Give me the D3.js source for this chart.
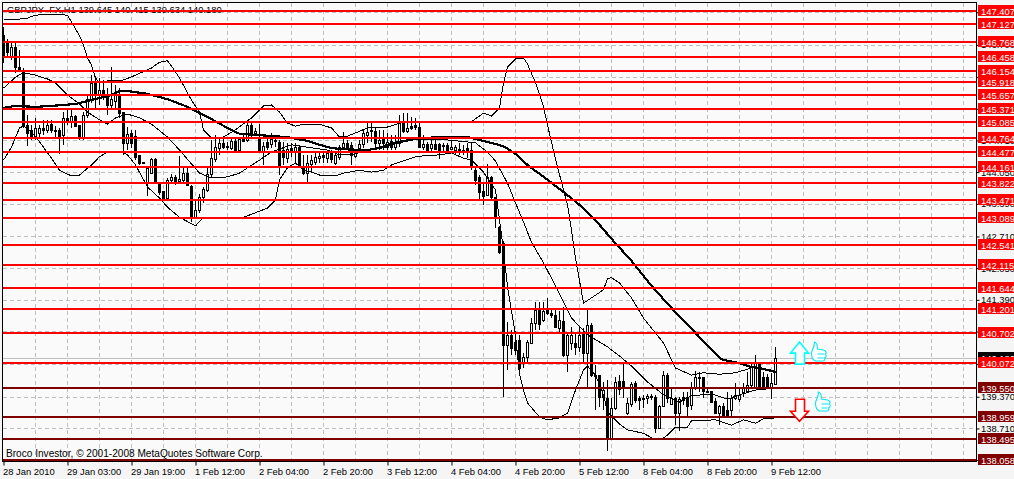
<!DOCTYPE html>
<html>
<head>
<meta charset="utf-8">
<script src="https://d3js.org/d3.v7.min.js"></script>
<style>
  html, body { margin: 0; padding: 0; background: #f5f5f5; overflow: hidden; }
  svg { display: block; }
  text { font-family: "Liberation Sans", Arial, sans-serif; font-size: 9.4px; fill: #000; }
</style>
</head>
<body>
<svg id="chart" width="1014" height="479"></svg>
<script>
// GBPJPY H1 candles
const opens = [
  146.91,146.76,146.45,146.66,146.24,146.14,145.03,144.93,144.78,144.87,
  144.97,144.93,145.05,144.91,144.93,144.82,145.18,145.12,145.22,145.03,
  144.78,145.24,145.55,145.91,145.66,145.76,145.66,145.45,145.53,145.68,
  145.30,144.66,144.87,144.80,144.41,144.26,143.82,144.03,144.32,143.82,
  143.66,143.51,143.89,143.95,143.87,143.89,144.03,143.76,143.11,143.26,
  143.53,143.68,144.01,144.32,144.55,144.66,144.59,144.55,144.70,144.51,
  144.74,144.72,145.03,144.87,144.76,144.49,144.68,144.64,144.72,144.68,
  144.51,144.34,144.55,144.47,144.57,144.14,144.03,144.22,144.26,144.34,
  144.41,144.34,144.45,144.24,144.37,144.57,144.66,144.62,144.39,144.55,
  144.64,144.82,144.93,144.91,144.66,144.76,144.57,144.70,144.57,144.66,
  145.12,144.91,145.01,145.03,144.99,144.57,144.64,144.55,144.64,144.64,
  144.59,144.62,144.53,144.51,144.53,144.51,144.55,144.51,144.09,143.95,
  143.66,143.57,143.95,143.53,142.91,142.57,140.45,140.66,140.51,140.55,
  140.09,140.20,140.49,140.91,141.18,140.97,141.18,141.12,141.07,140.80,
  140.95,140.24,140.49,140.49,140.41,140.70,140.28,140.87,139.82,139.82,
  139.37,139.34,138.51,139.14,139.70,139.70,139.03,139.22,139.66,139.34,
  139.34,139.34,139.39,139.37,138.72,139.18,139.82,139.22,139.34,139.03,
  139.37,139.37,139.20,139.57,139.78,139.78,139.49,139.49,139.28,139.03,
  139.18,139.09,139.09,139.34,139.32,139.47,139.49,139.61,139.57,140.05,
  139.78,139.78,139.57,139.645
]
const highs = [
  147.07,146.82,146.76,146.76,146.59,146.22,145.24,145.03,145.18,145.03,
  145.14,145.14,145.14,145.01,144.97,145.30,145.34,145.34,145.24,145.03,
  145.30,145.66,146.07,146.01,146.01,145.97,145.80,146.24,145.87,145.80,
  145.30,144.99,144.93,144.93,144.41,144.26,144.14,144.34,144.34,143.82,
  143.66,143.93,144.01,143.99,144.39,144.14,144.14,143.78,143.47,143.60,
  143.74,144.16,144.72,144.82,144.76,144.76,144.68,144.78,144.76,144.78,
  144.87,145.07,145.07,144.97,145.05,144.68,144.76,144.87,144.76,144.72,
  144.68,144.66,144.66,144.66,144.62,144.41,144.41,144.41,144.45,144.47,
  144.47,144.51,144.51,144.47,144.62,144.89,144.72,144.68,144.51,144.72,
  144.95,145.10,145.10,144.99,144.93,144.93,144.87,144.82,144.82,145.24,
  145.28,145.28,145.20,145.18,145.07,144.82,144.68,144.72,144.72,144.66,
  144.66,144.66,144.70,144.62,144.66,144.62,144.66,144.66,144.14,143.99,
  143.84,144.22,143.97,143.53,142.93,142.62,140.93,140.76,140.74,140.66,
  140.28,140.55,141.01,141.34,141.34,141.34,141.43,141.18,141.18,141.16,
  141.24,140.70,140.82,140.70,140.82,140.80,141.18,140.91,140.03,139.82,
  139.68,139.72,139.34,139.78,139.82,140.07,139.34,139.68,139.70,139.39,
  139.41,139.43,139.43,139.41,139.20,139.91,139.87,139.55,139.37,139.37,
  139.47,139.47,139.68,139.91,139.89,139.78,139.55,139.49,139.34,139.20,
  139.24,139.47,139.41,139.66,139.55,139.66,139.89,140.07,140.24,140.09,
  139.89,139.84,139.87,140.415
]
const lows = [
  146.32,146.43,146.39,146.12,146.16,144.97,144.59,144.72,144.72,144.76,
  144.82,144.87,144.87,144.78,144.43,144.62,145.03,144.97,144.99,144.72,
  144.72,145.18,145.49,145.39,145.45,145.55,145.24,145.34,145.39,145.18,
  144.41,144.51,144.55,144.30,144.20,144.24,143.55,144.03,143.80,143.57,
  143.47,143.49,143.82,143.78,143.82,143.82,143.76,143.01,143.09,143.20,
  143.41,143.64,143.95,144.26,144.41,144.53,144.51,144.51,144.49,144.47,
  144.68,144.68,144.78,144.85,144.49,144.20,144.51,144.55,144.57,143.99,
  144.20,144.24,144.37,144.24,144.16,143.99,143.84,144.03,144.20,144.24,
  144.24,144.24,144.24,144.20,144.30,144.51,144.51,144.20,144.34,144.47,
  144.55,144.66,144.68,144.51,144.51,144.51,144.51,144.51,144.51,144.57,
  144.87,144.87,144.93,144.93,144.57,144.51,144.47,144.47,144.51,144.32,
  144.47,144.45,144.51,144.41,144.41,144.41,144.34,144.09,143.78,143.47,
  143.37,143.55,143.47,142.89,142.34,139.37,139.93,140.24,140.24,139.97,
  139.97,140.09,140.49,140.76,140.76,140.93,141.07,141.01,140.80,140.72,
  140.20,139.89,140.34,140.24,140.30,140.09,139.57,139.78,139.09,139.16,
  139.09,138.24,138.51,139.09,139.41,139.34,138.99,139.16,139.24,139.09,
  139.14,139.22,139.30,138.61,138.70,139.16,139.24,139.20,138.78,138.66,
  139.20,138.95,139.09,139.51,139.47,139.34,139.45,139.24,139.03,138.78,
  138.93,138.93,138.93,139.30,139.26,139.37,139.45,139.55,139.55,139.55,
  139.53,139.55,139.32,139.634
]
const closes = [
  146.45,146.55,146.66,146.24,146.18,145.01,144.87,144.78,144.97,144.97,
  144.93,145.03,144.93,144.93,144.80,145.18,145.12,145.22,145.01,144.78,
  145.24,145.57,145.91,145.66,145.76,145.62,145.45,145.57,145.66,145.28,
  144.66,144.85,144.66,144.37,144.24,144.24,144.14,144.32,143.84,143.64,
  143.51,143.89,143.95,143.82,143.91,144.03,143.78,143.11,143.26,143.53,
  143.70,144.01,144.34,144.57,144.66,144.57,144.57,144.70,144.51,144.74,
  144.70,145.03,144.87,144.91,144.49,144.59,144.57,144.74,144.70,144.20,
  144.37,144.53,144.47,144.57,144.20,144.03,144.24,144.30,144.37,144.39,
  144.37,144.45,144.32,144.41,144.57,144.66,144.57,144.41,144.45,144.64,
  144.87,144.89,144.91,144.66,144.72,144.66,144.68,144.57,144.68,145.12,
  144.91,144.97,144.97,144.99,144.57,144.64,144.51,144.64,144.53,144.51,
  144.62,144.51,144.57,144.57,144.49,144.49,144.47,144.16,143.89,143.64,
  143.55,143.95,143.53,143.11,142.39,140.45,140.66,140.39,140.34,139.97,
  140.20,140.51,140.91,141.18,140.89,141.16,141.12,141.07,140.82,140.97,
  140.24,140.66,140.66,140.41,140.66,140.28,140.87,139.82,139.80,139.37,
  139.51,138.51,139.14,139.68,139.53,139.55,139.24,139.64,139.30,139.30,
  139.32,139.39,139.37,138.72,139.18,139.82,139.34,139.34,139.03,139.32,
  139.30,139.18,139.55,139.78,139.76,139.49,139.47,139.26,139.03,139.18,
  138.95,138.95,139.34,139.41,139.41,139.55,139.61,139.99,140.07,139.57,
  139.57,139.57,139.66,140.18
]

// Bollinger bands and the long moving average: [bar, price] readings
const upperBand = [[0,147.22],[2,147.22],[6,147.26],[8,147.32],[12,147.34],[16,147.32],[17,147.18],[19,146.89],[20,146.70],[21,146.43],[22,146.28],[23,146.01],[24,145.91],[26,145.95],[30,145.97],[33,146.07],[37,146.22],[39,146.34],[41,146.37],[42,146.26],[44,146.01],[47,145.55],[49,145.30],[50,144.93],[52,144.76],[55,144.78],[58,144.93],[62,145.18],[65,145.43],[67,145.45],[69,145.30],[71,145.07],[73,145.01],[75,145.05],[79,145.05],[82,144.97],[84,144.78],[86,144.80],[91,144.97],[96,144.99],[99,145.07],[102,145.10],[110,145.10],[117,145.10],[120,145.28],[122,145.22],[124,145.39],[125,145.91],[126,146.24],[128,146.41],[130,146.43],[131,146.30],[133,145.91],[135,145.41],[136,145.03],[138,144.32],[140,143.68],[141,143.37],[142,142.84],[143,142.26],[145,141.32],[147,141.43],[150,141.60],[151,141.83],[152,141.85],[154,141.74],[157,141.43],[160,141.01],[162,140.80],[165,140.49],[167,140.14],[168,139.97],[172,139.82],[175,139.87],[179,139.84],[183,139.87],[187,139.97],[188,139.99],[190,139.95],[193,139.87]]
const middleBand = [[0,145.80],[3,146.03],[5,146.12],[8,146.07],[11,145.99],[13,145.91],[16,145.66],[19,145.47],[21,145.30],[24,145.14],[26,145.05],[28,145.18],[31,145.26],[34,145.18],[37,145.05],[41,144.78],[44,144.51],[47,144.22],[49,144.03],[52,143.93],[56,143.95],[59,144.03],[64,144.30],[67,144.47],[72,144.62],[76,144.57],[81,144.51],[84,144.41],[87,144.41],[91,144.51],[94,144.57],[97,144.66],[102,144.74],[111,144.72],[116,144.68],[118,144.66],[121,144.47],[123,144.28],[126,143.82],[128,143.41],[130,143.01],[132,142.59],[135,142.16],[138,141.68],[142,141.01],[146,140.66],[151,140.41],[154,140.22],[157,140.01],[161,139.68],[165,139.41],[169,139.26],[172,139.39],[177,139.43],[181,139.32],[184,139.41],[188,139.51],[193,139.55]]
const lowerBand = [[0,144.30],[2,144.57],[4,144.97],[5,145.01],[7,144.89],[9,144.68],[12,144.34],[14,144.09],[17,143.97],[19,143.99],[22,144.20],[24,144.37],[26,144.47],[29,144.49],[31,144.41],[33,144.20],[36,143.74],[39,143.51],[41,143.32],[44,143.11],[48,142.93],[50,143.11],[55,143.11],[60,143.11],[66,143.30],[68,143.47],[69,143.89],[71,144.14],[73,144.24],[75,144.09],[77,144.05],[79,143.99],[83,143.97],[85,144.03],[89,144.09],[92,144.05],[95,144.09],[97,144.20],[99,144.26],[103,144.37],[105,144.39],[109,144.41],[112,144.45],[115,144.34],[117,144.30],[120,144.05],[123,143.68],[125,142.43],[126,141.66],[128,140.66],[129,139.84],[130,139.51],[131,139.24],[134,138.95],[136,138.89],[139,138.93],[141,139.03],[143,139.51],[145,139.93],[146,140.01],[148,139.82],[150,139.41],[151,139.05],[154,138.80],[156,138.68],[160,138.61],[163,138.47],[165,138.51],[166,138.57],[168,138.74],[171,138.74],[172,138.87],[178,138.89],[182,138.78],[185,138.89],[188,138.82],[190,138.91],[193,138.93]]
const slowAverage = [[0,145.39],[3,145.43],[8,145.41],[12,145.43],[18,145.47],[22,145.55],[27,145.66],[29,145.74],[31,145.74],[36,145.68],[41,145.57],[46,145.41],[51,145.20],[56,144.97],[59,144.85],[64,144.82],[71,144.78],[76,144.70],[81,144.57],[84,144.53],[91,144.51],[95,144.57],[98,144.66],[104,144.76],[110,144.78],[116,144.78],[121,144.68],[125,144.59],[128,144.43],[131,144.20],[136,143.89],[141,143.57],[145,143.30],[148,143.05],[152,142.66],[157,142.20],[162,141.68],[167,141.22],[173,140.70],[179,140.18],[180,140.14],[184,140.07],[187,139.99],[190,139.95],[193,139.89]]

// horizontal support and resistance levels
const redLevels = [147.407,147.127,146.768,146.458,146.154,145.918,145.657,145.371,145.085,144.764,144.477,144.161,143.822,143.471,143.089,142.541,142.115,141.644,141.201,140.702,140.072]
const darkLevels = [139.550,138.959,138.495,138.058]
const lastPrice = 140.180

// axes
const gridPrices = [147.380,146.700,146.030,145.370,144.710,144.050,143.390,142.710,142.050,141.390,140.730,140.050,139.370,138.710,138.050]
const xTickBars = [0,16,32,48,64,80,96,112,128,144,160,176,192]
const xTickLabels = ['28 Jan 2010','29 Jan 03:00','29 Jan 19:00','1 Feb 12:00','2 Feb 04:00','2 Feb 20:00','3 Feb 12:00','4 Feb 04:00','4 Feb 20:00','5 Feb 12:00','8 Feb 04:00','8 Feb 20:00','9 Feb 12:00']

const titleText = 'GBPJPY_FX,H1  139.645 140.415 139.634 140.180'
const copyrightText = 'Broco Investor, \u00a9 2001-2008 MetaQuotes Software Corp.'

const bars = opens.map((o, i) => ({ i: i, o: o, h: highs[i], l: lows[i], c: closes[i] }))

const frame = { left: 2.5, right: 976.5, top: 2.5, bottom: 461.5 }
const x = d3.scaleLinear().domain([0, 243]).range([3.5, 975.5])
const y = d3.scaleLinear().domain([147.407, 138.058]).range([11, 459.75])
const svg = d3.select('#chart')

/**
 * Paints the plot background and the dashed grid.
 */
function drawGrid () {
  svg.append('rect')
    .attr('x', frame.left).attr('y', frame.top)
    .attr('width', frame.right - frame.left).attr('height', frame.bottom - frame.top)
    .attr('fill', '#fafafa')

  const g = svg.append('g')
    .attr('stroke', '#c0c0c0')
    .attr('stroke-dasharray', '4,3')
    .attr('shape-rendering', 'crispEdges')

  g.selectAll('.h').data(gridPrices).enter().append('line')
    .attr('x1', frame.left).attr('x2', frame.right)
    .attr('y1', d => Math.round(y(d)) + 0.5).attr('y2', d => Math.round(y(d)) + 0.5)

  // one grid line every 8 bars, all the way through the empty right side
  g.selectAll('.v').data(d3.range(8, 243, 8)).enter().append('line')
    .attr('x1', d => x(d)).attr('x2', d => x(d))
    .attr('y1', frame.top).attr('y2', frame.bottom)

  svg.append('line')
    .attr('x1', frame.left).attr('x2', frame.right)
    .attr('y1', Math.round(y(lastPrice)) + 0.5).attr('y2', Math.round(y(lastPrice)) + 0.5)
    .attr('stroke', '#c0c0c0')
    .attr('shape-rendering', 'crispEdges')
}

/**
 * Draws the candles: black when the bar fell, white when it rose.
 */
function drawCandles () {
  const g = svg.append('g').attr('shape-rendering', 'crispEdges')

  g.selectAll('.wick').data(bars).enter().append('line')
    .attr('x1', d => x(d.i)).attr('x2', d => x(d.i))
    .attr('y1', d => y(d.h)).attr('y2', d => y(d.l))
    .attr('stroke', '#000')

  g.selectAll('.body').data(bars).enter().append('rect')
    .attr('x', d => x(d.i) - 1)
    .attr('y', d => Math.round(y(Math.max(d.o, d.c))) + 0.5)
    .attr('width', 2)
    .attr('height', d => Math.max(1, Math.round(Math.abs(y(d.o) - y(d.c)))))
    .attr('fill', d => d.c >= d.o ? '#fff' : '#000')
    .attr('stroke', '#000')
}

/**
 * Draws one indicator line from its [bar, price] readings.
 */
function drawIndicator (points, width) {
  const line = d3.line().x(d => x(d[0])).y(d => y(d[1]))
  svg.append('path')
    .attr('d', line(points))
    .attr('fill', 'none')
    .attr('stroke', '#000')
    .attr('stroke-width', width)
    .attr('shape-rendering', 'crispEdges')
}

/**
 * Draws the horizontal levels, on top of everything in the plot.
 */
function drawLevels (levels, color) {
  const g = svg.append('g').attr('shape-rendering', 'crispEdges')
  g.selectAll('line').data(levels).enter().append('line')
    .attr('x1', frame.left).attr('x2', frame.right)
    .attr('y1', d => Math.round(y(d))).attr('y2', d => Math.round(y(d)))
    .attr('stroke', color)
    .attr('stroke-width', 2)
}

/**
 * Draws the coloured price tags in the right margin.
 */
function drawTags (levels, color) {
  const g = svg.append('g')
  g.selectAll('rect').data(levels).enter().append('rect')
    .attr('x', frame.right + 1.5).attr('width', 40)
    .attr('y', d => Math.round(y(d)) - 6).attr('height', 11)
    .attr('fill', color)
  g.selectAll('text').data(levels).enter().append('text')
    .attr('x', frame.right + 4.5)
    .attr('y', d => Math.round(y(d)) + 3.5)
    .style('fill', '#fff')
    .text(d => d.toFixed(3))
}

/**
 * Draws the price axis and the time axis.
 */
function drawAxes () {
  const priceAxis = d3.axisRight(y).tickValues(gridPrices).tickSize(3).tickPadding(1.5)
    .tickFormat(d3.format('.3f'))
  const gy = svg.append('g').attr('transform', 'translate(' + frame.right + ',0)').call(priceAxis)
  gy.select('.domain').remove()
  gy.selectAll('text').style('font-size', '9.4px').style('font-family', '"Liberation Sans", Arial, sans-serif')

  const timeAxis = d3.axisBottom(x).tickValues(xTickBars).tickSize(4).tickPadding(3)
    .tickFormat((d, i) => xTickLabels[i])
  const gx = svg.append('g').attr('transform', 'translate(0,' + frame.bottom + ')').call(timeAxis)
  gx.select('.domain').remove()
  gx.selectAll('text').attr('text-anchor', 'start').attr('x', -1)
    .style('font-size', '9.4px').style('font-family', '"Liberation Sans", Arial, sans-serif')

  svg.append('rect')
    .attr('x', frame.left).attr('y', frame.top)
    .attr('width', frame.right - frame.left).attr('height', frame.bottom - frame.top)
    .attr('fill', 'none')
    .attr('stroke', '#000')
    .attr('shape-rendering', 'crispEdges')
}

/**
 * Draws the arrow and thumb signals beside the last bar.
 */
function drawSignals () {
  const upArrow = 'M0,-11 L9,0 L5,0 L5,11 L-4,11 L-4,0 L-9,0 Z'
  const downArrow = 'M-4,-11 L5,-11 L5,1 L9,1 L0,11 L-9,1 L-4,1 Z'
  const thumb = 'M3,0 C6,1 6,5 6,7 L12,8 C15,9 15,11 14,12 C15,13 15,15 13,16 C14,17 13,19 11,19 L4,19 C1,18 0,14 0,11 C0,8 3,6 3,0 Z M6,12 L13,12 M6,16 L12,16'

  svg.append('path')
    .attr('transform', 'translate(' + x(199) + ',' + y(140.28) + ')')
    .attr('d', upArrow).attr('fill', '#fff').attr('stroke', '#00ffff').attr('stroke-width', 1.6)
  svg.append('path')
    .attr('transform', 'translate(' + x(199) + ',' + y(139.09) + ')')
    .attr('d', downArrow).attr('fill', '#fff').attr('stroke', '#ff0000').attr('stroke-width', 1.6)
  svg.append('path')
    .attr('transform', 'translate(' + x(202) + ',' + y(140.51) + ')')
    .attr('d', thumb).attr('fill', '#fff').attr('stroke', '#00e8ee').attr('stroke-width', 1.1)
  svg.append('path')
    .attr('transform', 'translate(' + x(203) + ',' + y(139.47) + ')')
    .attr('d', thumb).attr('fill', '#fff').attr('stroke', '#00e8ee').attr('stroke-width', 1.1)
}

drawGrid()
drawCandles()
drawIndicator(upperBand, 1)
drawIndicator(middleBand, 1)
drawIndicator(lowerBand, 1)
drawIndicator(slowAverage, 2.2)

svg.append('text').attr('x', 7).attr('y', 13).text(titleText)

drawLevels(redLevels, '#ff0000')
drawLevels(darkLevels, '#800000')
drawAxes()

// last price tag sits under the red level tag
svg.append('rect')
  .attr('x', frame.right + 1.5).attr('width', 40)
  .attr('y', Math.round(y(lastPrice)) - 6).attr('height', 11)
  .attr('fill', '#000')
svg.append('text')
  .attr('x', frame.right + 4.5).attr('y', Math.round(y(lastPrice)) + 3.5)
  .style('fill', '#fff')
  .text(lastPrice.toFixed(3))

drawTags(redLevels, '#ff0000')
drawTags(darkLevels, '#800000')
drawSignals()

svg.append('text').attr('x', 6).attr('y', 457).style('font-size', '10.1px').text(copyrightText)
</script>
</body>
</html>
